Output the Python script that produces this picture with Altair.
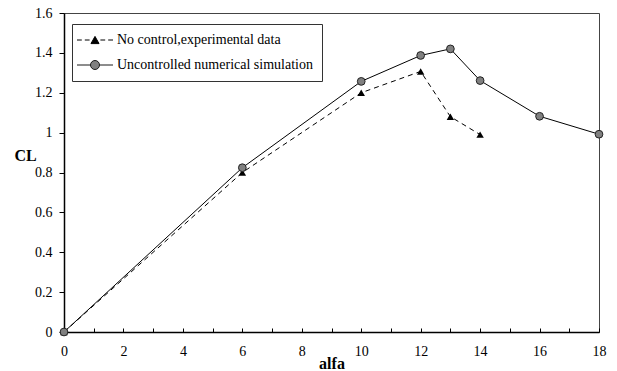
import altair as alt
import pandas as pd

# ---- data ----
series_exp = "No control,experimental data"
series_sim = "Uncontrolled numerical simulation"
alfa_exp = [0, 6, 10, 12, 13, 14]
cl_exp = [0, 0.80, 1.20, 1.307, 1.08, 0.99]
alfa_sim = [0, 6, 10, 12, 13, 14, 16, 18]
cl_sim = [0, 0.824, 1.257, 1.387, 1.42, 1.261, 1.082, 0.992]
x_label_values = [0, 2, 4, 6, 8, 10, 12, 14, 16, 18]
x_tick_values = list(range(0, 19))
y_values = [0, 0.2, 0.4, 0.6, 0.8, 1, 1.2, 1.4, 1.6]

df = pd.DataFrame(
    {
        "alfa": alfa_exp + alfa_sim,
        "CL": cl_exp + cl_sim,
        "series": [series_exp] * len(alfa_exp) + [series_sim] * len(alfa_sim),
    }
)
series_order = [series_exp, series_sim]

FONT = "Liberation Serif"
W, H = 535, 319

xscale = alt.Scale(domain=[0, 18], nice=False, zero=False)
yscale = alt.Scale(domain=[0, 1.6], nice=False)

tri_path = "M-3,0H-2.2M-1.7,0H-0.9M0.9,0H1.7M2.2,0H3M-0.67,0.6L0,-0.6L0.67,0.6Z"
circ_path = "M-3,0H-0.75M0.75,0H3M-0.75,0A0.75,0.75 0 1,1 0.75,0A0.75,0.75 0 1,1 -0.75,0Z"

y_axis = alt.Axis(
    orient="left",
    values=y_values,
    format="~g",
    grid=False,
    tickSize=5,
    labelPadding=7,
    labelFlush=False,
    title="CL",
    titleFont=FONT,
    titleFontSize=16,
    titleFontWeight="bold",
    titleAngle=0,
    titleX=-39,
    titleY=142,
    titleAlign="center",
    titleBaseline="middle",
)
Y = alt.Y("CL:Q", scale=yscale, axis=y_axis)
X_none = alt.X("alfa:Q", scale=xscale, axis=None)

legend = alt.Legend(
    title=None,
    orient="none",
    legendX=8,
    legendY=11,
    symbolSize=144,
    symbolOpacity=1,
    symbolStrokeColor="black",
    symbolStrokeWidth=1,
    symbolOffset=7,
    labelOffset=15,
    rowPadding=11,
    padding=9,
    labelFont=FONT,
    labelFontSize=14,
    labelColor="black",
    labelLimit=400,
    fillColor="white",
    strokeColor="#333333",
)

base = alt.Chart(df)
exp_data = base.transform_filter(alt.datum.series == series_exp)
sim_data = base.transform_filter(alt.datum.series == series_sim)

line_sim = sim_data.mark_line(color="black", strokeWidth=1).encode(
    x=alt.X(
        "alfa:Q",
        scale=xscale,
        axis=alt.Axis(
            orient="bottom",
            values=x_label_values,
            ticks=False,
            grid=False,
            labelFlush=False,
            labelPadding=12,
            title="alfa",
            titleFont=FONT,
            titleFontSize=16,
            titleFontWeight="bold",
            titleX=W / 2,
            titleY=31,
            titleBaseline="middle",
            titleAlign="center",
        ),
    ),
    y=Y,
)

line_exp = exp_data.mark_line(color="black", strokeWidth=1, strokeDash=[5, 4]).encode(
    x=X_none, y=Y
)

inner_ticks = base.mark_point(opacity=0).encode(
    x=alt.X(
        "alfa:Q",
        scale=xscale,
        axis=alt.Axis(
            orient="top",
            offset=-H,
            values=x_tick_values,
            labels=False,
            domain=False,
            grid=False,
            ticks=True,
            tickSize=4,
            title=None,
        ),
    ),
    y=Y,
)

pts_exp = exp_data.mark_point(
    shape="triangle-up", filled=True, color="black", size=55, opacity=1
).encode(x=X_none, y=Y)

pts_sim = sim_data.mark_point(
    shape="circle", filled=True, fill="#808080", stroke="#222222",
    strokeWidth=1, size=60, opacity=1
).encode(x=X_none, y=Y)

legend_layer = base.mark_point(filled=True, opacity=0).encode(
    x=X_none,
    y=Y,
    shape=alt.Shape(
        "series:N",
        scale=alt.Scale(domain=series_order, range=[tri_path, circ_path]),
        legend=legend,
    ),
    fill=alt.Fill(
        "series:N",
        scale=alt.Scale(domain=series_order, range=["black", "#808080"]),
        legend=legend,
    ),
    stroke=alt.Stroke(
        "series:N",
        scale=alt.Scale(domain=series_order, range=["black", "#1a1a1a"]),
        legend=legend,
    ),
    strokeWidth=alt.value(1),
)

chart = (
    alt.layer(line_sim, line_exp, inner_ticks, pts_exp, pts_sim, legend_layer)
    .resolve_axis(x="independent")
    .properties(
        width=W,
        height=H,
        autosize=alt.AutoSizeParams(type="none"),
        padding={"left": 64, "top": 13, "right": 18, "bottom": 39},
        background="white",
    )
    .configure_view(stroke="#444444", strokeWidth=1)
    .configure_axis(
        domainColor="black",
        domainWidth=1.5,
        tickColor="black",
        tickWidth=1,
        labelFont=FONT,
        labelFontSize=14,
        labelColor="black",
        titleColor="black",
    )
    .configure_legend(strokeWidth=1, labelFont=FONT, labelFontSize=14,
                      labelColor="black")
)

chart.save("out.html", embed_options={"renderer": "svg", "actions": False})
